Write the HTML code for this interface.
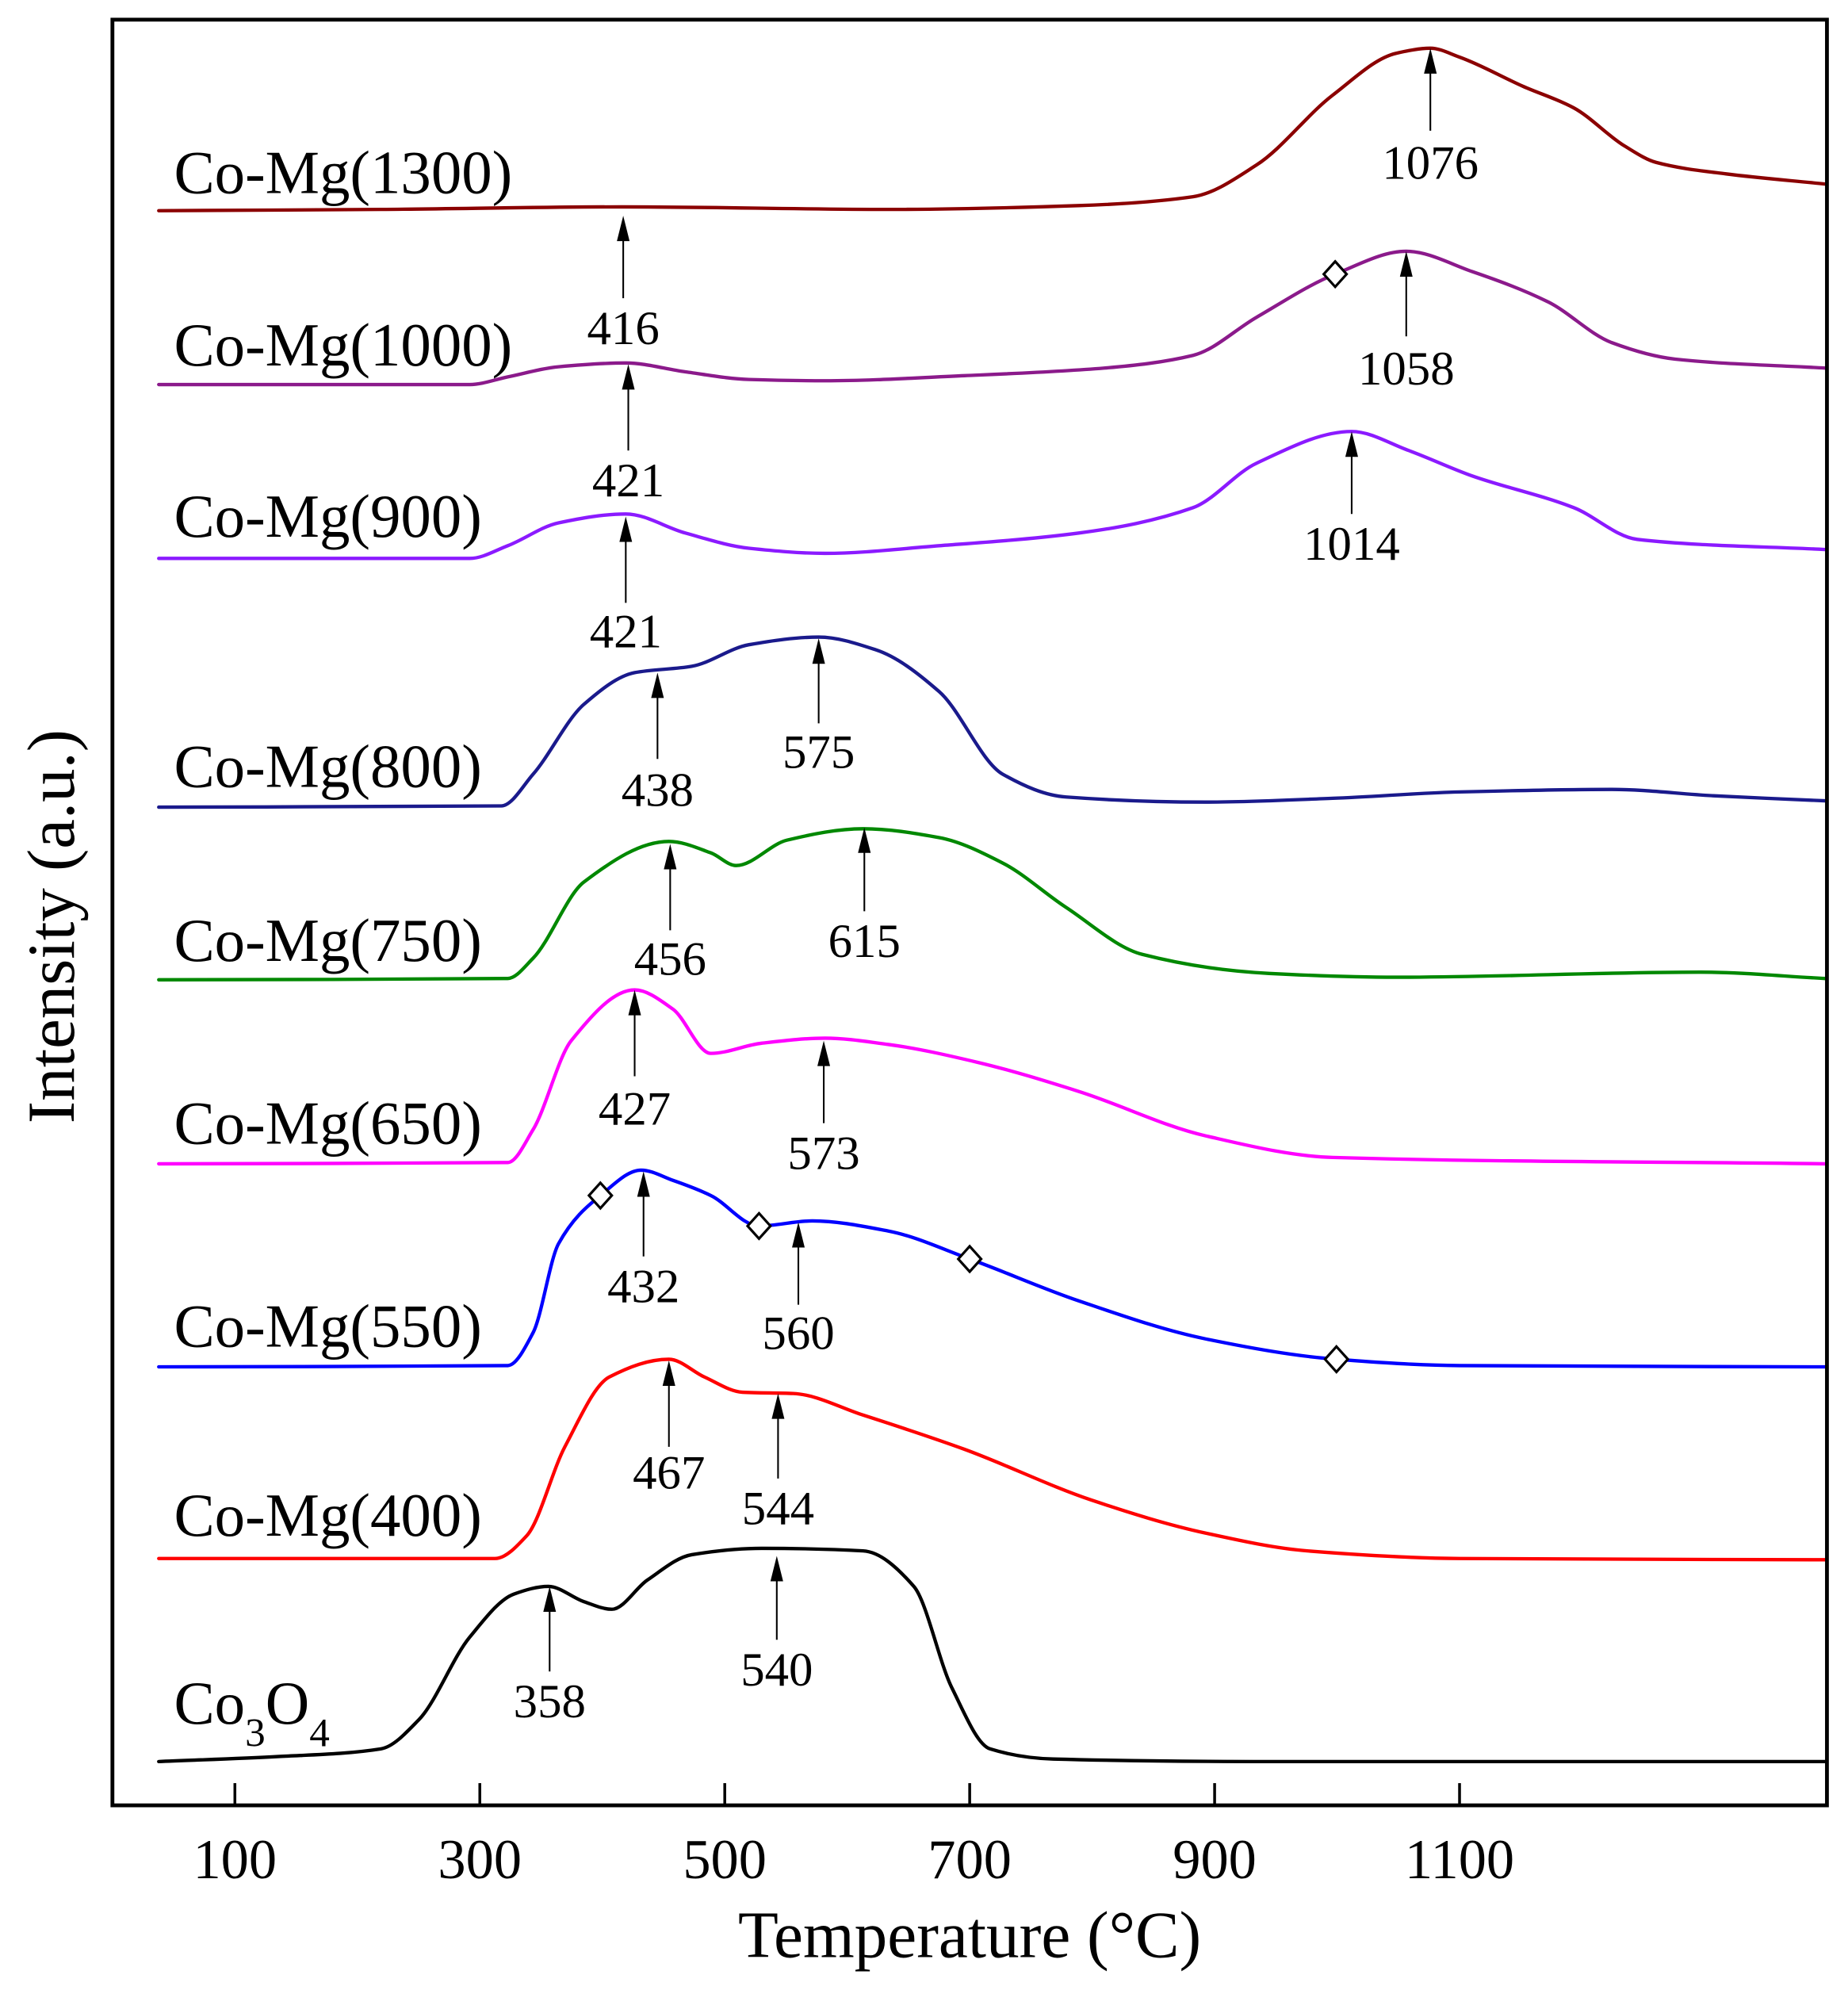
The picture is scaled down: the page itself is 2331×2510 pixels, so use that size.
<!DOCTYPE html>
<html><head><meta charset="utf-8"><style>
html,body{margin:0;padding:0;background:#fff;}
svg{display:block;}
text{font-family:"Liberation Serif",serif;fill:#000;}
</style></head><body>
<svg id="s" width="2331" height="2510" viewBox="0 0 1456 1568" xmlns="http://www.w3.org/2000/svg">
<rect x="0" y="0" width="1456" height="1568" fill="#fff"/>
<g id="curves" fill="none" stroke-width="2.7" stroke-linejoin="round" stroke-linecap="round"></g>
<rect x="88.5" y="15.5" width="1351" height="1407" fill="none" stroke="#000" stroke-width="3"/>
<g stroke="#000" stroke-width="2.2">
<line x1="185" y1="1422" x2="185" y2="1405"/><line x1="378" y1="1422" x2="378" y2="1405"/>
<line x1="571" y1="1422" x2="571" y2="1405"/><line x1="764" y1="1422" x2="764" y2="1405"/>
<line x1="957" y1="1422" x2="957" y2="1405"/><line x1="1150" y1="1422" x2="1150" y2="1405"/>
</g>
<g font-size="44" text-anchor="middle">
<text x="185" y="1480">100</text><text x="378" y="1480">300</text><text x="571" y="1480">500</text>
<text x="764" y="1480">700</text><text x="957" y="1480">900</text><text x="1150" y="1480">1100</text>
</g>
<text x="764" y="1542" font-size="52" text-anchor="middle">Temperature (°C)</text>
<text transform="translate(58,730) rotate(-90)" font-size="53" text-anchor="middle">Intensity (a.u.)</text>
<g font-size="48">
<text x="137" y="152">Co-Mg(1300)</text>
<text x="137" y="288">Co-Mg(1000)</text>
<text x="137" y="423">Co-Mg(900)</text>
<text x="137" y="620">Co-Mg(800)</text>
<text x="137" y="757">Co-Mg(750)</text>
<text x="137" y="901">Co-Mg(650)</text>
<text x="137" y="1061">Co-Mg(550)</text>
<text x="137" y="1210">Co-Mg(400)</text>
<text x="137" y="1358">Co<tspan font-size="32" dy="18">3</tspan><tspan dy="-18">O</tspan><tspan font-size="32" dy="18">4</tspan></text>
</g>
<g id="arrows"></g>
<g id="dia" fill="#fff" stroke="#000" stroke-width="2"></g>
</svg>
<script>
var series=[
["#000",[[125,1388],[220,1384],[300,1378],[330,1355],[370,1290],[405,1256],[432,1250],[460,1262],[482,1268],[510,1245],[545,1225],[600,1220],[680,1222],[720,1250],[750,1330],[780,1378],[830,1386],[1000,1388],[1438,1388]]],
["#f00",[[125,1228],[390,1228],[415,1210],[445,1140],[480,1085],[527,1071],[555,1085],[585,1097],[625,1098],[680,1115],[760,1142],[860,1182],[950,1208],[1030,1222],[1150,1228],[1438,1229]]],
["#00f",[[125,1077],[400,1076],[420,1050],[440,980],[473,942],[505,922],[530,930],[560,942],[598,966],[640,962],[700,970],[764,992],[850,1025],[950,1055],[1053,1071],[1150,1076],[1438,1077]]],
["#f0f",[[125,917],[400,916],[420,890],[450,820],[500,780],[530,795],[560,830],[600,822],[650,818],[700,823],[770,837],[850,860],[950,895],[1050,912],[1438,917]]],
["#080",[[125,772],[400,771],[420,755],[460,695],[527,663],[560,672],[580,682],[620,662],[680,653],[740,660],[790,680],[840,715],[900,752],[1000,767],[1100,770],[1340,766],[1438,771]]],
["#1a1a8c",[[125,636],[395,635],[420,610],[460,555],[500,530],[545,525],[590,508],[645,502],[690,512],[740,545],[790,610],[840,628],[950,632],[1050,629],[1150,624],[1270,622],[1350,627],[1438,631]]],
["#8b1aff",[[125,440],[370,440],[400,430],[440,412],[493,405],[540,420],[590,432],[650,436],[740,430],[850,420],[940,400],[990,365],[1065,340],[1110,355],[1160,375],[1240,400],[1290,425],[1438,433]]],
["#8b1a8b",[[125,303],[370,303],[400,297],[440,289],[493,286],[540,293],[590,299],[650,300],[760,296],[870,290],[940,280],[990,250],[1052,216],[1108,198],[1160,214],[1220,238],[1270,270],[1320,283],[1438,290]]],
["#8b0000",[[125,166],[300,165],[490,163],[700,165],[850,162],[940,155],[990,130],[1050,75],[1100,42],[1127,38],[1150,45],[1200,68],[1240,85],[1280,115],[1305,128],[1360,137],[1438,145]]]
];
function path(p){var n=p.length,d=[],h=[],m=[];
for(var i=0;i<n-1;i++){h[i]=p[i+1][0]-p[i][0];d[i]=(p[i+1][1]-p[i][1])/h[i];}
m[0]=d[0];m[n-1]=d[n-2];
for(var k=1;k<n-1;k++){if(d[k-1]*d[k]<=0)m[k]=0;else{var w1=2*h[k]+h[k-1],w2=h[k]+2*h[k-1];m[k]=(w1+w2)/(w1/d[k-1]+w2/d[k]);}}
var s="M"+p[0][0]+","+p[0][1];
for(var i=0;i<n-1;i++){var t=h[i]/3;s+=" C"+(p[i][0]+t).toFixed(1)+","+(p[i][1]+m[i]*t).toFixed(1)+" "+(p[i+1][0]-t).toFixed(1)+","+(p[i+1][1]-m[i+1]*t).toFixed(1)+" "+p[i+1][0]+","+p[i+1][1];}
return s;}
var NS="http://www.w3.org/2000/svg",g=document.getElementById("curves");
series.forEach(function(s){var e=document.createElementNS(NS,"path");e.setAttribute("d",path(s[1]));e.setAttribute("stroke",s[0]);g.appendChild(e);});
var arr=[[1127,38,103,128,"1076"],[491,170,235,258,"416"],[1108,198,265,290,"1058"],[495,287,355,378,"421"],[1065,340,405,428,"1014"],[493,407,475,497,"421"],[518,530,598,622,"438"],[645,503,570,592,"575"],[528,665,733,755,"456"],[681,652,718,741,"615"],[500,780,848,873,"427"],[649,820,885,908,"573"],[507,923,990,1013,"432"],[629,963,1028,1050,"560"],[527,1072,1140,1160,"467"],[613,1098,1165,1188,"544"],[433,1250,1317,1340,"358"],[612,1226,1292,1315,"540"]];
var a=document.getElementById("arrows"),hh="";
arr.forEach(function(r){hh+='<line x1="'+r[0]+'" y1="'+(r[1]+10)+'" x2="'+r[0]+'" y2="'+r[2]+'" stroke="#000" stroke-width="1.3"/>';hh+='<polygon points="'+r[0]+','+r[1]+' '+(r[0]-5)+','+(r[1]+20)+' '+(r[0]+5)+','+(r[1]+20)+'" fill="#000"/>';hh+='<text x="'+r[0]+'" y="'+(r[3]+13)+'" font-size="38" text-anchor="middle">'+r[4]+'</text>';});
a.innerHTML=hh;
var dd=document.getElementById("dia"),dh="";
[[1052,216],[473,942],[598,966],[764,992],[1053,1071]].forEach(function(p){dh+='<polygon points="'+p[0]+','+(p[1]-10)+' '+(p[0]+9)+','+p[1]+' '+p[0]+','+(p[1]+10)+' '+(p[0]-9)+','+p[1]+'"/>';});
dd.innerHTML=dh;
</script>
</body></html>
